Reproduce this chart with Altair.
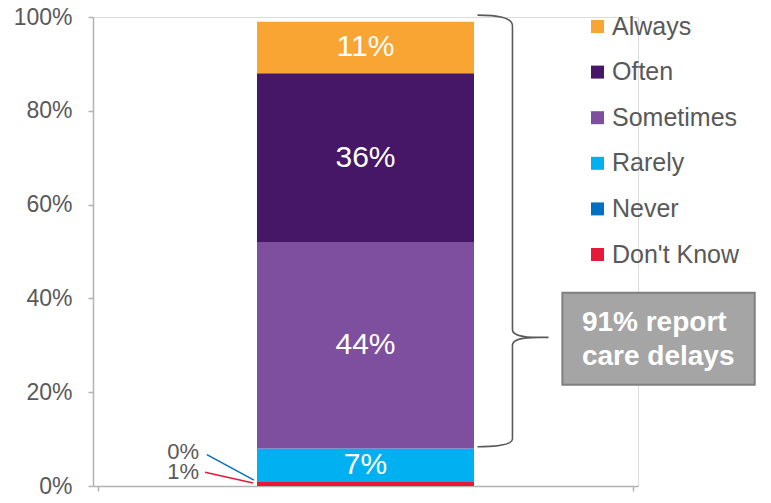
import altair as alt
import pandas as pd

# ---- data ----
categories = ["Don't Know", "Never", "Rarely", "Sometimes", "Often", "Always"]
values = [1, 0, 7, 44, 36, 11]
colors = ["#E8183A", "#0070C0", "#00B0F0", "#7D4F9E", "#461766", "#F9A533"]
legend_order = ["Always", "Often", "Sometimes", "Rarely", "Never", "Don't Know"]

y_ticks = [0, 20, 40, 60, 80, 100]

# small-value callouts (label, position, leader line, colour)
callout_labels = ["0%", "1%"]
callout_x = [0.378, 0.378]
callout_y = [7.35, 2.9]
callout_lx = [0.407, 0.400]
callout_ly = [6.7, 2.95]
callout_lx2 = [0.583, 0.580]
callout_ly2 = [1.26, 0.63]
callout_colors = ["#0070C0", "#E8183A"]

box_lines = ["91% report", "care delays"]
box_line_y = [33.0, 25.8]
box_x, box_x2, box_y, box_y2 = 1.736, 2.455, 41.2, 21.6
text_x = 1.809
brace_x, brace_y = 1.684, 31.7

FONT = "Liberation Sans"
GREY = "#595959"
AXIS_GREY = "#B3B3B3"

PLOT_W, PLOT_H = 545, 469

df = pd.DataFrame({
    "category": categories,
    "value": values,
    "rank": list(range(len(categories))),
    "group": [1] * len(categories),
})

x_scale = alt.Scale(domain=[0, 2], nice=False, zero=False)
y_scale = alt.Scale(domain=[0, 100], nice=False)

stacked = alt.Chart(df).transform_stack(
    stack="value", groupby=["group"], sort=[alt.SortField("rank")], as_=["y0", "y1"]
)

bars = stacked.mark_bar(size=217).encode(
    x=alt.X("group:Q", scale=x_scale,
            axis=alt.Axis(values=[0, 2], labels=False, grid=False, title=None,
                          tickSize=5, domainColor=AXIS_GREY, tickColor=AXIS_GREY,
                          domainWidth=1.5, tickWidth=1.5)),
    y=alt.Y("y0:Q", scale=y_scale,
            axis=alt.Axis(values=y_ticks, labelExpr="datum.value + '%'", grid=False,
                          title=None, tickSize=5, labelPadding=16, labelFontSize=23,
                          labelColor=GREY, labelFont=FONT, domainColor=AXIS_GREY,
                          tickColor=AXIS_GREY, domainWidth=1.5, tickWidth=1.5)),
    y2="y1:Q",
    color=alt.Color("category:N",
                    scale=alt.Scale(domain=categories, range=colors),
                    sort=legend_order,
                    legend=alt.Legend(orient="none", legendX=492, legendY=-3, title=None,
                                      symbolType="square", symbolSize=169,
                                      symbolStrokeWidth=0, symbolOpacity=1,
                                      labelFontSize=25, labelFont=FONT, labelColor=GREY,
                                      labelOffset=2, rowPadding=19.6, padding=0,
                                      values=legend_order)),
)

labels = stacked.transform_filter("datum.value >= 5").transform_calculate(
    mid="(datum.y0 + datum.y1) / 2", lab="datum.value + '%'"
).mark_text(color="white", fontSize=30, font=FONT, baseline="middle").encode(
    x=alt.X("group:Q", scale=x_scale),
    y=alt.Y("mid:Q", scale=y_scale),
    text="lab:N",
)

cdf = pd.DataFrame({
    "label": callout_labels, "x": callout_x, "y": callout_y,
    "lx": callout_lx, "ly": callout_ly, "lx2": callout_lx2, "ly2": callout_ly2,
    "col": callout_colors,
})

callout_text = alt.Chart(cdf).mark_text(
    align="right", baseline="middle", fontSize=22, font=FONT, color=GREY
).encode(x=alt.X("x:Q", scale=x_scale), y=alt.Y("y:Q", scale=y_scale), text="label:N")

callout_lines = alt.Chart(cdf).mark_rule(strokeWidth=1.5).encode(
    x=alt.X("lx:Q", scale=x_scale), y=alt.Y("ly:Q", scale=y_scale),
    x2="lx2:Q", y2="ly2:Q",
    color=alt.Color("col:N", scale=None, legend=None),
)

# brace drawn as custom symbol path (pixel offsets relative to the brace tip)
U = 327.0
K = PLOT_H / 476.0  # vertical scale relative to the reference layout
pts = [
    ("M", [(-71, -327)]),
    ("C", [(-52, -327), (-36, -325), (-36, -316)]),
    ("L", [(-36, -8)]),
    ("C", [(-36, -3), (-30, 0), (-10, 0)]),
    ("L", [(0, 0)]),
    ("M", [(-10, 0)]),
    ("C", [(-30, 0), (-36, 3), (-36, 8)]),
    ("L", [(-36, 103)]),
    ("C", [(-36, 109), (-52, 111), (-71, 111)]),
]
path = " ".join(
    cmd + " " + " ".join(f"{px / U:.4f} {py * K / U:.4f}" for px, py in coords)
    for cmd, coords in pts
)
bdf = pd.DataFrame({"x": [brace_x], "y": [brace_y]})
brace = alt.Chart(bdf).mark_point(
    shape=path, size=(2 * U) ** 2, filled=False, color="#5A5A5A", strokeWidth=1.6, opacity=1
).encode(x=alt.X("x:Q", scale=x_scale), y=alt.Y("y:Q", scale=y_scale))

boxdf = pd.DataFrame({"x": [box_x], "x2": [box_x2], "y": [box_y], "y2": [box_y2]})
box = alt.Chart(boxdf).mark_rect(fill="#A5A5A5", stroke="#7F7F7F", strokeWidth=2).encode(
    x=alt.X("x:Q", scale=x_scale), x2="x2:Q", y=alt.Y("y:Q", scale=y_scale), y2="y2:Q"
)

tdf = pd.DataFrame({"t": box_lines, "x": [text_x] * len(box_lines), "y": box_line_y})
box_text = alt.Chart(tdf).mark_text(
    align="left", baseline="alphabetic", fontSize=28, fontWeight="bold", font=FONT, color="white"
).encode(x=alt.X("x:Q", scale=x_scale), y=alt.Y("y:Q", scale=y_scale), text="t:N")

chart = alt.layer(bars, labels, callout_lines, callout_text, brace, box, box_text).properties(
    width=PLOT_W, height=PLOT_H,
    autosize=alt.AutoSizeParams(type="none"),
    padding={"left": 85, "top": 9, "right": 125, "bottom": 9},
).configure_view(stroke=None).configure(font=FONT)

chart.save("out.html", embed_options={"renderer": "svg", "actions": False})
